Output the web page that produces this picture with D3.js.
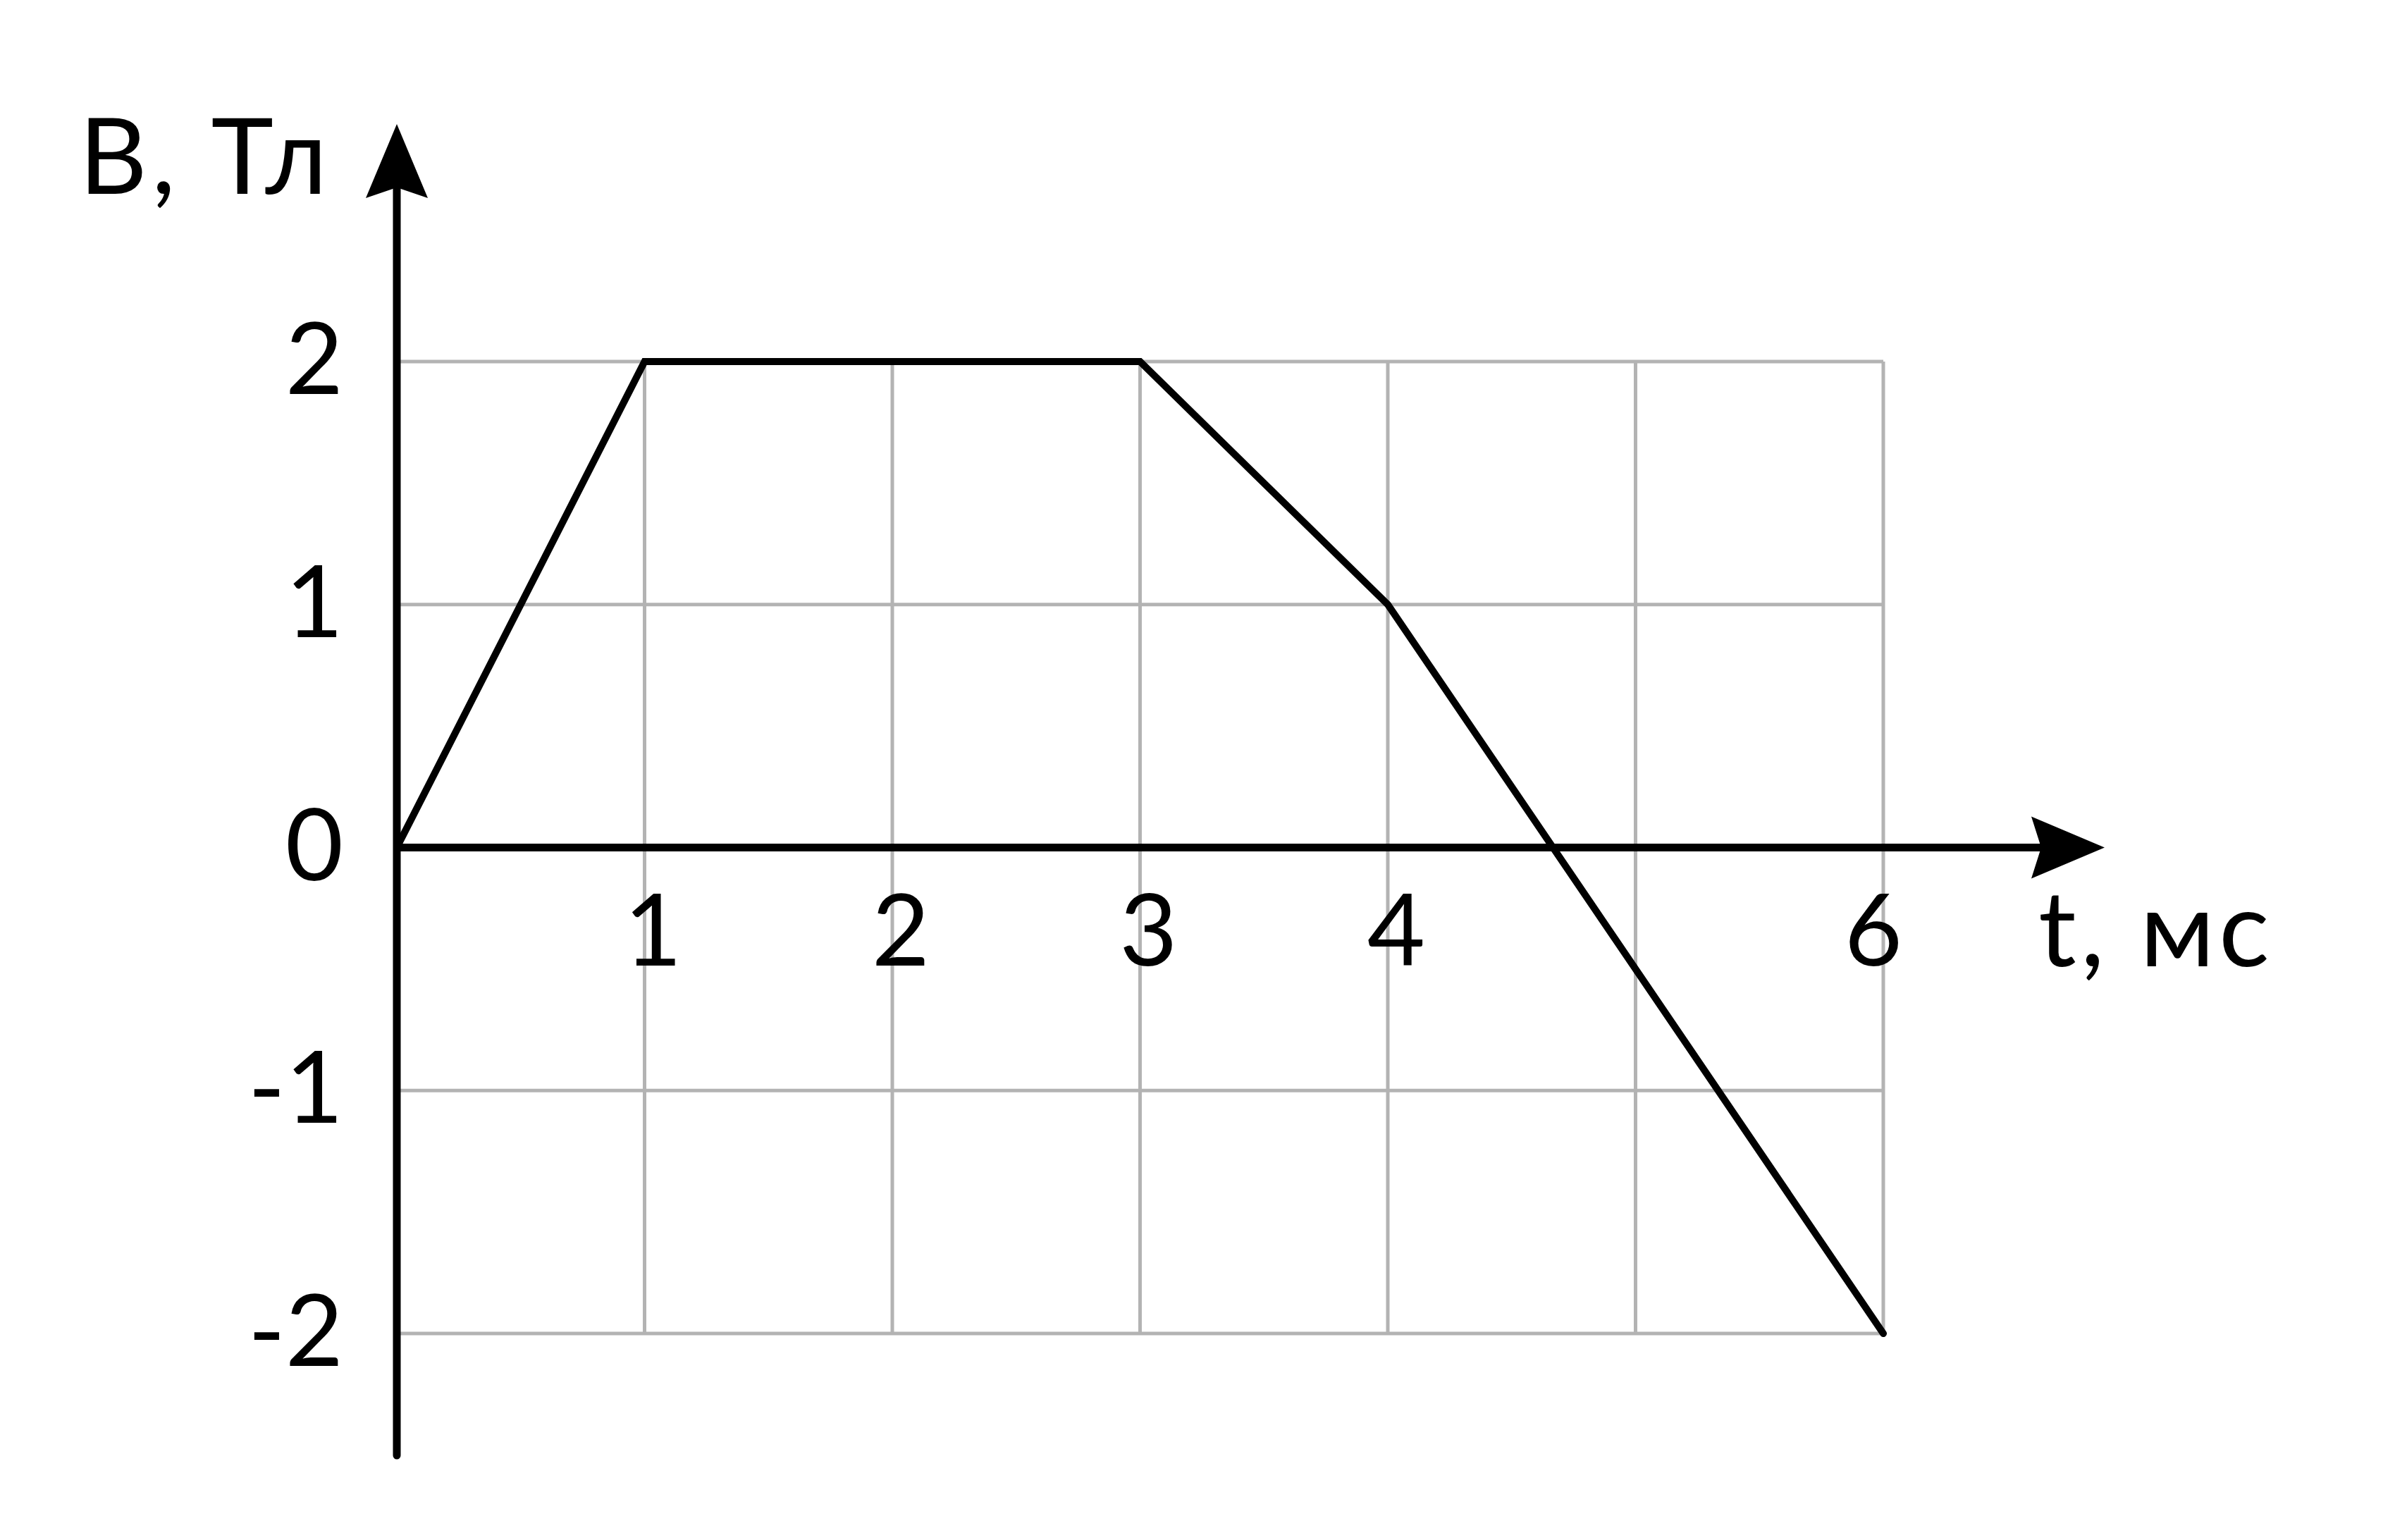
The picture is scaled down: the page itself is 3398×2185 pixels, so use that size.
<!DOCTYPE html>
<html>
<head>
<meta charset="utf-8">
<script src="https://cdn.jsdelivr.net/npm/d3@7"></script>
<style>
  html, body { margin: 0; padding: 0; background: white; }
  text { font-family: "Lato", "Noto Sans", "DejaVu Sans", sans-serif; font-weight: 400; fill: black; }
</style>
</head>
<body>
<svg class="canvas"></svg>
<script>
//data
let times = [0, 1, 3, 4, 6];        // t, мс
let field = [0, 2, 2, 1, -2];       // B, Тл
let xTicks = [1, 2, 3, 4, 6];
let xGrid = [1, 2, 3, 4, 5, 6];
let yTicks = [2, 1, 0, -1, -2];
let yGrid = [2, 1, -1, -2];
let yLabel = "B, Тл";
let xLabel = "t, мс";

//params
let width = 3398;
let height = 2185;
let axis_width = 11;
let grid_width = 5;
let line_width = 10;
let tick_font = 142;
let label_font = 150;
//----------

let x = d3.scaleLinear().domain([0, 6]).range([563, 2672]);
let y = d3.scaleLinear().domain([-2, 2]).range([1892, 513]);

var svg = d3.select(".canvas")
    .attr("width", width)
    .attr("height", height)
    .style("background", "white");

// grid
svg.append("g")
    .selectAll("line")
    .data(xGrid)
    .enter()
    .append("line")
    .attr("x1", d => x(d)).attr("x2", d => x(d))
    .attr("y1", y(2)).attr("y2", y(-2))
    .attr("stroke", "#b3b3b3")
    .attr("stroke-width", grid_width);

svg.append("g")
    .selectAll("line")
    .data(yGrid)
    .enter()
    .append("line")
    .attr("x1", x(0)).attr("x2", x(6))
    .attr("y1", d => y(d)).attr("y2", d => y(d))
    .attr("stroke", "#b3b3b3")
    .attr("stroke-width", grid_width);

// axes with arrow heads
let x0 = x(0), y0 = y(0);
let yTop = 176, yBottom = 2065, xRight = 2986;

svg.append("line")
    .attr("x1", x0).attr("x2", x0)
    .attr("y1", yBottom).attr("y2", yTop + 90)
    .attr("stroke", "black")
    .attr("stroke-width", axis_width)
    .attr("stroke-linecap", "round");
svg.append("path")
    .attr("d", `M${x0},${yTop} L${x0 + 44},${yTop + 105} L${x0},${yTop + 90} L${x0 - 44},${yTop + 105} Z`)
    .attr("fill", "black");

svg.append("line")
    .attr("x1", x0).attr("x2", xRight - 90)
    .attr("y1", y0).attr("y2", y0)
    .attr("stroke", "black")
    .attr("stroke-width", axis_width);
svg.append("path")
    .attr("d", `M${xRight},${y0} L${xRight - 104},${y0 - 44} L${xRight - 90},${y0} L${xRight - 104},${y0 + 44} Z`)
    .attr("fill", "black");

// the graph
let line = d3.line()
    .x(i => x(times[i]))
    .y(i => y(field[i]));

svg.append("path")
    .attr("d", line(d3.range(times.length)))
    .attr("fill", "none")
    .attr("stroke", "black")
    .attr("stroke-width", line_width)
    .attr("stroke-linecap", "round")
    .attr("stroke-linejoin", "miter");

// tick labels
svg.append("g")
    .selectAll("text")
    .data(xTicks)
    .enter()
    .append("text")
    .attr("x", d => x(d) + (d == 6 ? -14 : 12))
    .attr("y", 1370)
    .attr("text-anchor", "middle")
    .attr("font-size", tick_font)
    .text(d => d);

svg.append("g")
    .selectAll("text")
    .data(yTicks)
    .enter()
    .append("text")
    .attr("x", 487)
    .attr("y", d => y(d) + 46)
    .attr("text-anchor", "end")
    .attr("font-size", tick_font)
    .text(d => d);

// axis names
svg.append("text")
    .attr("x", 112)
    .attr("y", 275)
    .attr("font-size", label_font)
    .attr("letter-spacing", 6)
    .text(yLabel);

svg.append("text")
    .attr("x", 2892)
    .attr("y", 1371)
    .attr("font-size", label_font)
    .attr("letter-spacing", 6)
    .text(xLabel);
</script>
</body>
</html>
